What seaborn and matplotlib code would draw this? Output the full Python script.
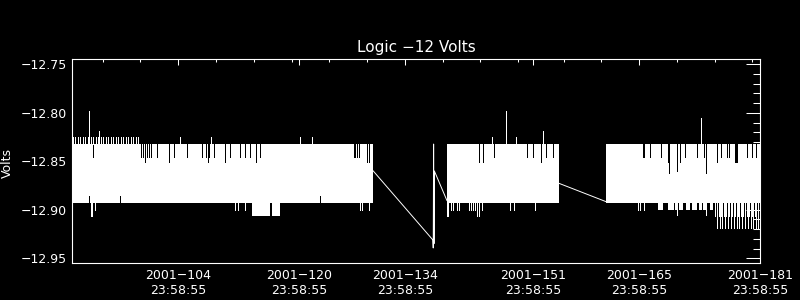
import numpy as np
import pandas as pd
import matplotlib
matplotlib.use("Agg")
import matplotlib.pyplot as plt
import seaborn as sns
from matplotlib.ticker import FixedLocator, FuncFormatter

# ---------------- data (day of year 2001, volts) ----------------
title = "Logic \u221212 Volts"
ylabel = "Volts"
major_days = [104, 120, 134, 151, 165, 181]
major_labels = ["2001\u2212104\n23:58:55", "2001\u2212120\n23:58:55", "2001\u2212134\n23:58:55",
                "2001\u2212151\n23:58:55", "2001\u2212165\n23:58:55", "2001\u2212181\n23:58:55"]
minor_days = [94, 99, 104, 109, 114, 119, 124, 129, 134, 139, 144, 149, 155, 160, 165, 170, 175, 180]
y_major = [-12.95, -12.90, -12.85, -12.80, -12.75]

# dense data bands (envelope of the rapidly alternating signal)
band_start = [90.0, 139.57, 160.62]
band_end = [129.78, 154.39, 181.0]
band_top = [-12.832, -12.832, -12.832]
band_bottom = [-12.8927, -12.8927, -12.8927]

# stretches where the low excursions go deeper
sub_start = [113.76, 167.53]
sub_end = [117.50, 174.81]
sub_bottom = [-12.9064, -12.9002]

# gaps inside those deeper stretches
gap_start = [116.20, 168.21, 169.56, 170.18, 170.86, 171.74, 172.62, 173.29, 174.03]
gap_end = [116.40, 168.87, 169.70, 170.32, 171.21, 171.96, 172.97, 173.50, 174.39]

# sparse samples across data gaps
conn_piece = [1, 1, 1, 1, 1, 1, 1, 2, 2]
conn_day = [129.78, 137.70, 137.75, 137.80, 137.85, 137.90, 139.57, 154.39, 160.62]
conn_volts = [-12.8597, -12.9311, -12.9394, -12.8322, -12.9350, -12.8600, -12.8906, -12.8727, -12.8916]

# upward excursions above the band
up_day = [90.07, 90.33, 90.73, 90.99, 91.39, 91.65, 92.05, 92.22, 92.45, 92.71, 93.11, 93.38, 93.55,
          93.77, 94.04, 94.43, 94.70, 95.10, 95.36, 95.76, 96.02, 96.42, 96.68, 97.08, 97.35,
          97.74, 98.01, 98.40, 98.67, 104.23, 108.33, 120.11, 121.70,
          145.53, 147.38, 148.70, 152.28, 173.20]
up_volts = [-12.8246, -12.8246, -12.8246, -12.8246, -12.8246, -12.8246, -12.8246, -12.7981, -12.8246,
            -12.8246, -12.8246, -12.8246, -12.8188, -12.8246, -12.8246, -12.8246, -12.8246, -12.8246,
            -12.8246, -12.8246, -12.8246, -12.8246, -12.8246, -12.8246, -12.8246, -12.8246, -12.8246,
            -12.8246, -12.8246, -12.8246, -12.8246, -12.8246, -12.8246,
            -12.8246, -12.7981, -12.8246, -12.8188, -12.8057]

# downward excursions below the band
down_day = [92.41, 92.58, 92.98, 111.55, 111.87, 112.87, 128.09, 128.32, 129.21,
            139.61, 139.74, 140.10, 140.36, 140.90, 141.20, 142.48, 142.75, 143.01, 143.28,
            143.54, 143.77, 144.16, 147.90, 148.40, 151.20,
            164.86, 165.13, 165.66, 169.00, 169.98, 173.86,
            175.05, 175.35, 175.53, 175.71, 175.88, 176.01, 176.20, 176.37, 176.54, 176.72,
            176.94, 177.12, 177.34, 177.56, 177.73, 177.91, 178.09, 178.26, 178.44, 178.58,
            178.79, 179.01, 179.24, 179.41, 179.58, 179.77, 179.94, 180.11, 180.30, 180.47,
            180.78]
down_volts = [-12.9064, -12.9064, -12.9002, -12.9002, -12.9002, -12.9002, -12.9002, -12.9002, -12.9002,
              -12.9064, -12.9064, -12.9002, -12.9002, -12.9002, -12.9002, -12.9002, -12.9002, -12.9002,
              -12.9002, -12.9064, -12.9064, -12.9002, -12.9002, -12.9002, -12.9002,
              -12.9002, -12.9002, -12.9002, -12.8985, -12.9054, -12.9054,
              -12.9064, -12.9191, -12.9064, -12.9191, -12.9064, -12.9191, -12.9064, -12.9191,
              -12.9064, -12.9191, -12.9064, -12.9191, -12.9064, -12.9191, -12.9064, -12.9191,
              -12.9064, -12.9191, -12.9064, -12.9191, -12.9064, -12.9191, -12.9064, -12.9191,
              -12.9064, -12.9191, -12.9064, -12.9191, -12.9064, -12.9191, -12.9191]

# samples where the high level was not reached (notches from the top)
notch_day = [92.71, 99.07, 99.33, 99.56, 99.86, 100.17, 100.43, 101.18, 102.81, 103.47, 105.16,
             107.14, 107.71, 107.93, 108.11, 108.69, 110.15, 110.89, 112.13, 112.87, 113.53,
             114.33, 114.86, 127.22, 127.43, 127.66, 127.88, 129.01, 129.23,
             143.77, 144.33, 145.83, 150.16, 150.95, 152.01, 152.67, 153.59,
             165.48, 165.70, 166.45, 167.86, 168.78, 169.00, 169.98, 170.42, 171.08, 172.71,
             173.59, 173.86, 175.27, 175.84, 176.59, 176.94, 177.69, 177.80, 177.91, 179.24,
             179.90, 180.43]
notch_volts = [-12.8453, -12.8453, -12.8453, -12.8512, -12.8453, -12.8453, -12.8453, -12.8453, -12.8512,
               -12.8453, -12.8453, -12.8453, -12.8453, -12.8512, -12.8453, -12.8453, -12.8512,
               -12.8453, -12.8453, -12.8453, -12.8453, -12.8512, -12.8453, -12.8453, -12.8453,
               -12.8453, -12.8453, -12.8512, -12.8512,
               -12.8512, -12.8512, -12.8453, -12.8453, -12.8453, -12.8512, -12.8453, -12.8453,
               -12.8453, -12.8453, -12.8453, -12.8453, -12.8512, -12.8620, -12.8600, -12.8512,
               -12.8453, -12.8453, -12.8453, -12.8620, -12.8512, -12.8453, -12.8453, -12.8453,
               -12.8512, -12.8512, -12.8512, -12.8453, -12.8453, -12.8453]

# samples where the low level was not reached (notches from the bottom)
bnotch_day = [92.22, 96.33, 122.80]
bnotch_volts = [-12.886, -12.886, -12.886]

# ---------------- figure ----------------
sns.set_theme(style="dark", rc={
    "axes.facecolor": "black", "figure.facecolor": "black",
    "axes.edgecolor": "white", "text.color": "white",
    "xtick.color": "white", "ytick.color": "white",
    "axes.labelcolor": "white", "axes.grid": False,
})
plt.rcParams["font.family"] = ["DejaVu Sans"]

fig = plt.figure(figsize=(8, 3), dpi=100, facecolor="black")
ax = fig.add_axes([0.0906, 0.1223, 0.8594, 0.68])
ax.set_facecolor("black")

W = "white"
lw1 = 0.5

for s, e, t, b in zip(band_start, band_end, band_top, band_bottom):
    ax.fill_between([s, e], [t, t], [b, b], color=W, lw=0, antialiased=False)
for s, e, b in zip(sub_start, sub_end, sub_bottom):
    ax.fill_between([s, e], [band_bottom[0]] * 2, [b, b], color=W, lw=0, antialiased=False)
for s, e in zip(gap_start, gap_end):
    ax.fill_between([s, e], [band_bottom[0] - 0.0003] * 2, [-12.907, -12.907],
                    color="black", lw=0, antialiased=False)

ax.vlines(down_day, band_bottom[0], down_volts, colors=W, lw=lw1, antialiased=False)
ax.vlines(notch_day, band_top[0] + 0.0002, notch_volts, colors="black", lw=lw1, antialiased=False)
ax.vlines(bnotch_day, band_bottom[0] - 0.0002, bnotch_volts, colors="black", lw=lw1, antialiased=False)
ax.vlines(up_day, band_top[0], up_volts, colors=W, lw=lw1, antialiased=False)

conn = pd.DataFrame({"piece": conn_piece, "day": conn_day, "volts": conn_volts})
sns.lineplot(data=conn, x="day", y="volts", units="piece", estimator=None, sort=False,
             color=W, lw=0.7, ax=ax, legend=False)

ax.set_xlim(90, 181)
ax.set_ylim(-12.9552, -12.7448)

ax.xaxis.set_major_locator(FixedLocator(major_days))
ax.xaxis.set_minor_locator(FixedLocator(minor_days))
ax.set_xticklabels(major_labels)
ax.yaxis.set_major_locator(FixedLocator(y_major))
ax.yaxis.set_minor_locator(FixedLocator([round(-12.95 + 0.01 * i, 2) for i in range(21)]))
ax.yaxis.set_major_formatter(FuncFormatter(lambda v, p: f"{v:.2f}".replace("-", "\u2212")))

ax.tick_params(axis="both", which="both", direction="in", colors=W, top=True, right=True,
               width=0.75, labelsize=9)
ax.tick_params(axis="y", which="major", length=10, pad=4)
ax.tick_params(axis="y", which="minor", length=5)
ax.tick_params(axis="x", which="major", length=4.3, pad=4)
ax.tick_params(axis="x", which="minor", length=2.2)
for sp in ax.spines.values():
    sp.set_color(W)
    sp.set_linewidth(0.8)

ax.set_xlabel("")
ax.set_ylabel("")
ax.set_title(title, color=W, fontsize=11, pad=5)
fig.text(0.009, 0.455, ylabel, rotation=90, color=W, fontsize=9, ha="center", va="center")

fig.savefig("out.png", dpi=100, facecolor="black")
